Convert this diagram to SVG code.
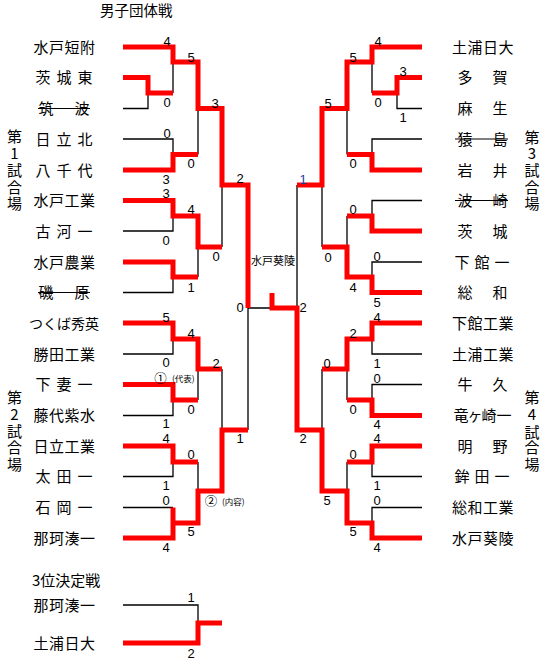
<svg xmlns="http://www.w3.org/2000/svg" width="550" height="664" viewBox="0 0 550 664">
<style>
.n{font-family:"Noto Sans CJK JP","Noto Sans CJK SC",sans-serif;font-size:15px;text-anchor:middle;fill:#000}
.t{font-family:"Noto Sans CJK JP","Noto Sans CJK SC",sans-serif;font-size:15px;fill:#000}
.s{font-family:"Liberation Sans",Arial,sans-serif;font-size:13px;text-anchor:middle;fill:#000}
.sm{font-family:"Noto Sans CJK JP","Noto Sans CJK SC",sans-serif;font-size:8.5px;fill:#000}
.c{font-family:"Noto Sans CJK JP","Noto Sans CJK SC",sans-serif;font-size:12.5px;fill:#000}
.r{fill:none;stroke:#ff0000;stroke-width:5;stroke-linejoin:miter;stroke-linecap:butt}
.b{fill:none;stroke:#000;stroke-width:1.3}
.k{stroke:#000;stroke-width:1.2}
</style>
<rect width="550" height="664" fill="#fff"/>
<text class="t" x="100" y="16" style="font-size:14.5px">男子団体戦</text>
<text class="t" x="32" y="585.5">3位決定戦</text>
<text class="n" x="14.5 14.5 14.5 14.5 14.5" y="141.5 158.5 176 193 209">第1試合場</text>
<text class="n" x="14.5 14.5 14.5 14.5 14.5" y="402.5 420 437 452.5 469.5">第2試合場</text>
<text class="n" x="532 532 532 532 532" y="142.5 158.5 175.5 192.5 208.5">第3試合場</text>
<text class="n" x="532 532 532 532 532" y="402.5 419.5 437.5 452.5 469.5">第4試合場</text>
<text x="273" y="265" style="font-family:'Noto Sans CJK JP',sans-serif;font-size:11px;text-anchor:middle">水戸葵陵</text>

<g id="connectors">
<path class="b" d="M123 108.5H148V93 M173 62V93 M123 139H173V154.5 M198 108.5V154.5 M123 231H173V216 M123 292.5H173V277 M198 247V277 M222 185V247 M248 308V430 M248 308H272"/>
<path class="b" d="M123 354H173V339 M123 415.5H173V400 M198 369V400 M123 476.5H173V462 M123 507.5H173 M198 462V491 M222 369V430"/>
<path class="b" d="M123 605H198V623"/>
<path class="b" d="M422 108.5H397V93 M372 62V93 M422 139H372V154.5 M347 108.5V154.5 M422 200.5H372V216 M422 262H372V277 M347 216V247 M322 185V247 M297 185V308"/>
<path class="b" d="M422 354H372V339 M422 384.5H372V400 M347 369V400 M422 476.5H372V462 M422 507.5H372V523 M347 462V491 M322 369V430"/>
<path class="r" d="M123 47H173V62H198V108.5H222V185H248V308"/>
<path class="r" d="M123 77.5H148V93H173"/>
<path class="r" d="M123 170H173V154.5H198"/>
<path class="r" d="M123 200.5H173V216H198V247H222"/>
<path class="r" d="M123 262H173V277H198"/>
<path class="r" d="M123 323H173V339H198V369H222"/>
<path class="r" d="M123 384.5H173V400H198"/>
<path class="r" d="M123 446H173V462H198"/>
<path class="r" d="M123 538H173V507.5 M173 523H198V491H222V430H248"/>
<path class="r" d="M123 643H198V623H222"/>
<path class="r" d="M422 47H372V62H347V108.5H322V185H297"/>
<path class="r" d="M422 77.5H397V93H372"/>
<path class="r" d="M422 170H372V154.5H347"/>
<path class="r" d="M422 231H372V216H347"/>
<path class="r" d="M422 292.5H372V277H347V247H322"/>
<path class="r" d="M422 323H372V339H347V369H322"/>
<path class="r" d="M422 415.5H372V400H347"/>
<path class="r" d="M422 446H372V462H347"/>
<path class="r" d="M422 538H372V523H347V491H322V430H297V308H272V293"/>
</g>

<g id="teams-left">
<g id="t-mitotanfu"><text class="n" x="41 56.5 72 87.5" y="52.5">水戸短附</text></g>
<g id="t-ibarakihigashi"><text class="n" x="43 64 85" y="83">茨城東</text></g>
<g id="t-tsukuba"><text class="n" x="46 82" y="114">筑波</text><line class="k" x1="38" y1="108.5" x2="90" y2="108.5"/></g>
<g id="t-hitachikita"><text class="n" x="43 64 85" y="144.5">日立北</text></g>
<g id="t-yachiyo"><text class="n" x="43 64 85" y="175.5">八千代</text></g>
<g id="t-mitokogyo"><text class="n" x="41 56.5 72 87.5" y="206">水戸工業</text></g>
<g id="t-kogaichi"><text class="n" x="43 64 85" y="236.5">古河一</text></g>
<g id="t-mitonogyo"><text class="n" x="41 56.5 72 87.5" y="267.5">水戸農業</text></g>
<g id="t-isohara"><text class="n" x="46 82" y="298">磯原</text><line class="k" x1="38" y1="292.5" x2="90" y2="292.5"/></g>
<g id="t-tsukubashuei"><text class="n" x="36 50 64 78 92" y="328.5" style="font-size:14px">つくば秀英</text></g>
<g id="t-katsutakogyo"><text class="n" x="41 56.5 72 87.5" y="359.5">勝田工業</text></g>
<g id="t-shimotsumaichi"><text class="n" x="43 64 85" y="390">下妻一</text></g>
<g id="t-fujishiroshisui"><text class="n" x="41 56.5 72 87.5" y="421">藤代紫水</text></g>
<g id="t-hitachikogyo"><text class="n" x="41 56.5 72 87.5" y="451.5">日立工業</text></g>
<g id="t-otaichi"><text class="n" x="43 64 85" y="482">太田一</text></g>
<g id="t-ishiokaichi"><text class="n" x="43 64 85" y="513">石岡一</text></g>
<g id="t-nakaminatoichi"><text class="n" x="41 56.5 72 87.5" y="543.5">那珂湊一</text></g>
</g>

<g id="teams-right">
<g id="t-tsuchiuranichidai"><text class="n" x="459.5 475 490.5 506" y="52.5">土浦日大</text></g>
<g id="t-taga"><text class="n" x="465 500" y="83">多賀</text></g>
<g id="t-aso"><text class="n" x="465 500" y="114">麻生</text></g>
<g id="t-sashima"><text class="n" x="465 500" y="144.5">猿島</text><line class="k" x1="455" y1="139" x2="508" y2="139"/></g>
<g id="t-iwai"><text class="n" x="465 500" y="175.5">岩井</text></g>
<g id="t-hasaki"><text class="n" x="465 500" y="206">波崎</text><line class="k" x1="455" y1="200.5" x2="508" y2="200.5"/></g>
<g id="t-ibaraki"><text class="n" x="465 500" y="236.5">茨城</text></g>
<g id="t-shimodateichi"><text class="n" x="462 482 502" y="267.5">下館一</text></g>
<g id="t-sowa"><text class="n" x="465 500" y="298">総和</text></g>
<g id="t-shimodatekogyo"><text class="n" x="459.5 475 490.5 506" y="328.5">下館工業</text></g>
<g id="t-tsuchiurakogyo"><text class="n" x="459.5 475 490.5 506" y="359.5">土浦工業</text></g>
<g id="t-ushiku"><text class="n" x="465 500" y="390">牛久</text></g>
<g id="t-ryugasakiichi"><text class="n" x="461 475 489 504" y="421">竜ヶ崎一</text></g>
<g id="t-meino"><text class="n" x="465 500" y="451.5">明野</text></g>
<g id="t-hokotaichi"><text class="n" x="462 482 502" y="482">鉾田一</text></g>
<g id="t-sowakogyo"><text class="n" x="459.5 475 490.5 506" y="513">総和工業</text></g>
<g id="t-mitoeiryo"><text class="n" x="459.5 475 490.5 506" y="543.5">水戸葵陵</text></g>
</g>

<g id="third-place">
<g id="t3-nakaminatoichi"><text class="n" x="41 56.5 72 87.5" y="610.5">那珂湊一</text></g>
<g id="t3-tsuchiuranichidai"><text class="n" x="41 56.5 72 87.5" y="648.5">土浦日大</text></g>
</g>

<g id="scores">
<text class="s" x="167" y="45.7">4</text>
<text class="s" x="167" y="106.7">0</text>
<text class="s" x="191" y="61.7">5</text>
<text class="s" x="215" y="107.7">3</text>
<text class="s" x="167" y="137.7">0</text>
<text class="s" x="191" y="167.7">0</text>
<text class="s" x="166" y="183.7">3</text>
<text class="s" x="166" y="197.7">3</text>
<text class="s" x="240" y="182.7">2</text>
<text class="s" x="191" y="213.7">4</text>
<text class="s" x="166" y="244.7">0</text>
<text class="s" x="216" y="260.7">0</text>
<text class="s" x="191" y="291.7">1</text>
<text class="s" x="240" y="311.7">0</text>
<text class="s" x="166" y="321.7">5</text>
<text class="s" x="191" y="337.7">4</text>
<text class="s" x="166" y="367.2">0</text>
<text class="s" x="216" y="367.7">2</text>
<text class="s" x="191" y="413.7">0</text>
<text class="s" x="166" y="427.7">1</text>
<text class="s" x="166" y="442.7">4</text>
<text class="s" x="191" y="458.7">0</text>
<text class="s" x="240" y="442.7">1</text>
<text class="s" x="166" y="489.7">1</text>
<text class="s" x="166" y="504.7">0</text>
<text class="s" x="191" y="535.7">5</text>
<text class="s" x="166" y="551.7">4</text>
<text class="s" x="191" y="601.7">1</text>
<text class="s" x="191" y="657.7">2</text>
<text class="c" x="154.3" y="383.3">①<tspan class="sm" x="172" y="381.5">(代表)</tspan></text>
<text class="c" x="204.8" y="505.5">②<tspan class="sm" x="222" y="504.5">(内容)</tspan></text>

<text class="s" x="378" y="45.7">4</text>
<text class="s" x="353" y="61.7">5</text>
<text class="s" x="403" y="75.7">3</text>
<text class="s" x="378" y="106.7">0</text>
<text class="s" x="328" y="107.7">5</text>
<text class="s" x="403" y="121.7">1</text>
<text class="s" x="353" y="167.7">0</text>
<text class="s" x="303" y="183.7" style="fill:#1c3c9c">1</text>
<text class="s" x="353" y="213.7">0</text>
<text class="s" x="328" y="261.7">0</text>
<text class="s" x="377" y="260.7">0</text>
<text class="s" x="353" y="291.7">4</text>
<text class="s" x="377" y="306.7">5</text>
<text class="s" x="303" y="311.7">2</text>
<text class="s" x="377" y="321.7">4</text>
<text class="s" x="353" y="337.7">2</text>
<text class="s" x="377" y="367.7">1</text>
<text class="s" x="327" y="367.7">0</text>
<text class="s" x="377" y="382.7">0</text>
<text class="s" x="353" y="413.7">0</text>
<text class="s" x="377" y="428.7">4</text>
<text class="s" x="303" y="442.7">2</text>
<text class="s" x="377" y="442.7">4</text>
<text class="s" x="353" y="458.7">0</text>
<text class="s" x="377" y="489.7">1</text>
<text class="s" x="327" y="504.7">5</text>
<text class="s" x="377" y="504.7">0</text>
<text class="s" x="353" y="535.7">5</text>
<text class="s" x="377" y="551.7">4</text>
</g>
</svg>
